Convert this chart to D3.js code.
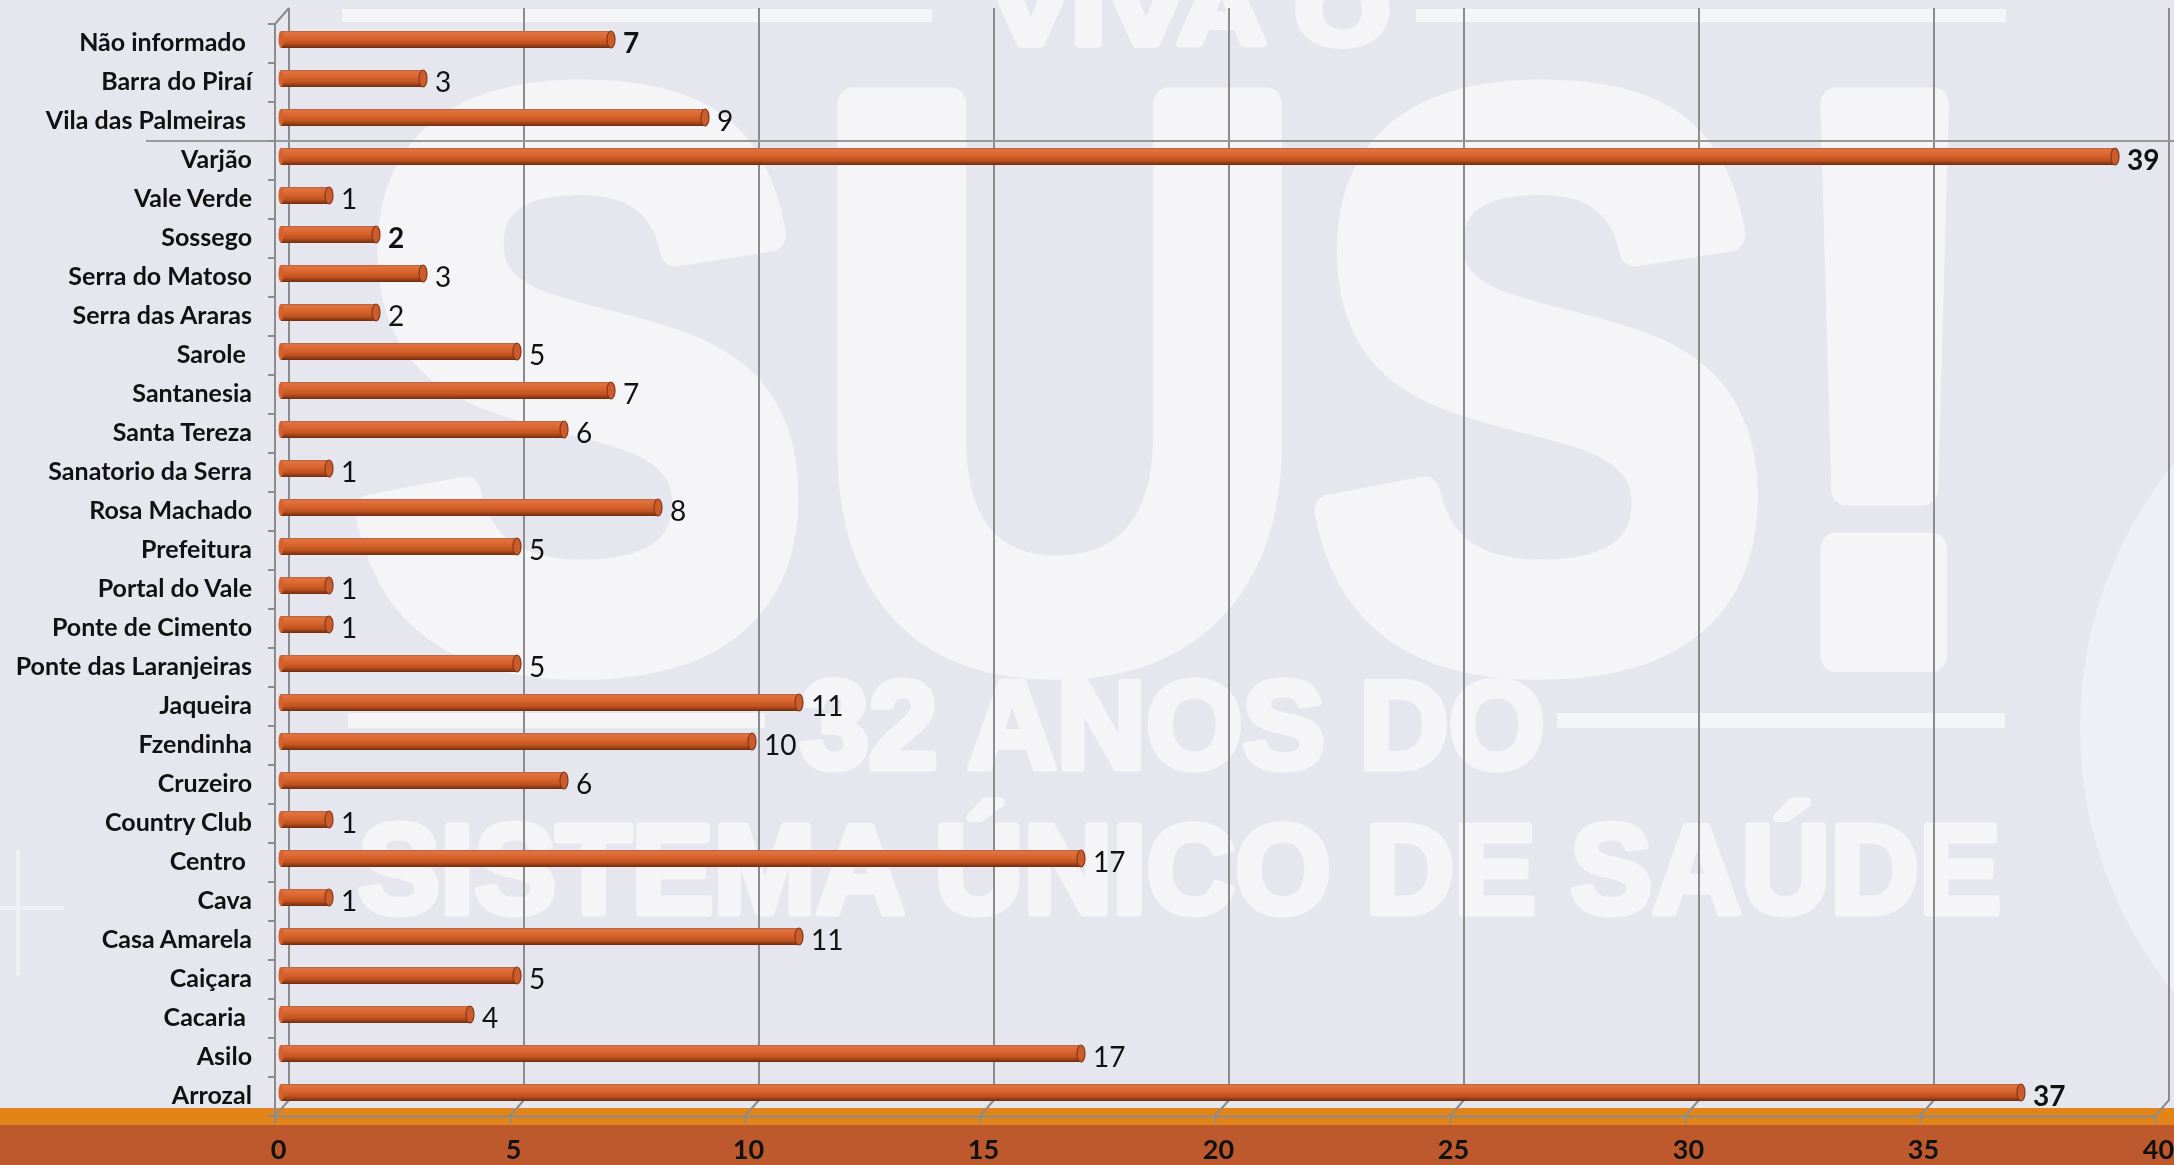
<!DOCTYPE html>
<html>
<head>
<meta charset="utf-8">
<script src="https://cdn.jsdelivr.net/npm/d3@7/dist/d3.min.js"></script>
<style>
  body { margin: 0; background: #e6e6ee; overflow: hidden; }
  text { font-family: Lato, "Open Sans", sans-serif; }
</style>
</head>
<body>
<script>
"use strict";

// categories top to bottom, as in the original sheet (some carry a trailing space)
var categories = [
  "Não informado ", "Barra do Piraí", "Vila das Palmeiras ", "Varjão", "Vale Verde",
  "Sossego", "Serra do Matoso", "Serra das Araras", "Sarole ", "Santanesia",
  "Santa Tereza", "Sanatorio da Serra", "Rosa Machado", "Prefeitura", "Portal do Vale",
  "Ponte de Cimento", "Ponte das Laranjeiras", "Jaqueira", "Fzendinha", "Cruzeiro",
  "Country Club", "Centro ", "Cava", "Casa Amarela", "Caiçara",
  "Cacaria ", "Asilo", "Arrozal"
];
var values = [
  7, 3, 9, 39, 1,
  2, 3, 2, 5, 7,
  6, 1, 8, 5, 1,
  1, 5, 11, 10, 6,
  1, 17, 1, 11, 5,
  4, 17, 37
];
// value labels that are bold in the original
var boldValues = ["Não informado ", "Sossego", "Varjão", "Arrozal"];
var xTicks = [0, 5, 10, 15, 20, 25, 30, 35, 40];

var width = 2174, height = 1165;
// front plane of the 3d box, back wall is shifted by depth
var front = {left: 275, right: 2155, top: 24, bottom: 1116};
var depth = {x: 14, y: -16};

var data = categories.map(function(c, i) { return {cat: c, value: values[i]}; });

var xScale = d3.scaleLinear()
    .domain([0, 40])
    .range([front.left, front.right]);

var yScale = d3.scaleBand()
    .domain(categories)
    .range([front.top, front.bottom]);

var svg = d3.select("body").append("svg")
    .attr("width", width)
    .attr("height", height);

var defs = svg.append("defs");
var grad = defs.append("linearGradient")
    .attr("id", "barGrad")
    .attr("x1", 0).attr("y1", 0).attr("x2", 0).attr("y2", 1);
[["0%", "#a9644a"], ["10%", "#e2733f"], ["38%", "#da6630"], ["72%", "#c2531f"], ["100%", "#6e2c10"]]
  .forEach(function(s) { grad.append("stop").attr("offset", s[0]).attr("stop-color", s[1]); });

// background picture (faded poster)
svg.append("rect").attr("width", width).attr("height", height).attr("fill", "#e6e6ee");

var wmFont = "'Liberation Sans', Arial, sans-serif";
var wm = svg.append("g").attr("class", "watermark")
    .attr("fill", "#ffffff").attr("stroke", "#ffffff").attr("stroke-linejoin", "round")
    .attr("opacity", 0.6);
wm.append("circle").attr("cx", 2500).attr("cy", 728).attr("r", 420)
    .attr("fill", "#f4f7fe").attr("stroke", "none");
wm.append("rect").attr("x", 342).attr("y", 9).attr("width", 590).attr("height", 13).attr("stroke", "none");
wm.append("rect").attr("x", 1416).attr("y", 9).attr("width", 590).attr("height", 13).attr("stroke", "none");
wm.append("text").attr("x", 1190).attr("y", 44).attr("text-anchor", "middle")
    .attr("font-size", 100).attr("font-weight", 700).attr("stroke-width", 8)
    .style("font-family", wmFont)
    .attr("textLength", 400).attr("lengthAdjust", "spacingAndGlyphs")
    .text("VIVA O");
wm.append("text").attr("x", 350).attr("y", 655)
    .attr("font-size", 800).attr("font-weight", 700).attr("stroke-width", 34)
    .style("font-family", wmFont)
    .attr("textLength", 1650).attr("lengthAdjust", "spacingAndGlyphs")
    .text("SUS!");
wm.append("rect").attr("x", 348).attr("y", 713).attr("width", 417).attr("height", 15).attr("stroke", "none");
wm.append("rect").attr("x", 1557).attr("y", 713).attr("width", 448).attr("height", 15).attr("stroke", "none");
wm.append("text").attr("x", 800).attr("y", 768)
    .attr("font-size", 124).attr("font-weight", 700).attr("stroke-width", 7)
    .style("font-family", wmFont)
    .attr("textLength", 745).attr("lengthAdjust", "spacingAndGlyphs")
    .text("32 ANOS DO");
wm.append("text").attr("x", 358).attr("y", 913)
    .attr("font-size", 127).attr("font-weight", 700).attr("stroke-width", 7)
    .style("font-family", wmFont)
    .attr("textLength", 1643).attr("lengthAdjust", "spacingAndGlyphs")
    .text("SISTEMA ÚNICO DE SAÚDE");
wm.append("path").attr("fill", "none").attr("stroke-width", 4).attr("opacity", 0.7)
    .attr("d", "M18,850V975M0,908H64");

// bottom bands
svg.append("rect").attr("x", 0).attr("y", 1108).attr("width", width).attr("height", 17).attr("fill", "#e38418");
svg.append("rect").attr("x", 0).attr("y", 1125).attr("width", width).attr("height", height - 1125).attr("fill", "#bd592c");

var gridColor = "#8c8c8c";

// gridlines on the back wall, bending down to the front axis
svg.append("g").attr("class", "gridlines")
  .selectAll("path")
  .data(xTicks)
  .enter().append("path")
    .attr("fill", "none")
    .attr("stroke", gridColor)
    .attr("stroke-width", 2)
    .attr("d", function(t) {
      var xb = xScale(t) + depth.x;
      return "M" + xb + "," + (front.top + depth.y) +
             "V" + (front.bottom + depth.y) +
             "L" + xScale(t) + "," + front.bottom;
    });

// odd line across the plot in the original
svg.append("line")
    .attr("x1", 146).attr("x2", width)
    .attr("y1", yScale(categories[3])).attr("y2", yScale(categories[3]))
    .attr("stroke", "#999").attr("stroke-width", 2);

// category axis (front left edge)
var gY = svg.append("g").attr("class", "axis axis--y");
gY.append("path")
    .attr("fill", "none").attr("stroke", gridColor).attr("stroke-width", 2)
    .attr("d", "M" + (front.left + depth.x) + "," + (front.top + depth.y) +
               "L" + front.left + "," + front.top + "V" + (front.bottom + 7));
gY.selectAll(".tick")
  .data(categories.concat([null]))
  .enter().append("line")
    .attr("class", "tick")
    .attr("x1", front.left - 7).attr("x2", front.left)
    .attr("y1", function(c) { return c === null ? front.bottom : yScale(c); })
    .attr("y2", function(c) { return c === null ? front.bottom : yScale(c); })
    .attr("stroke", gridColor).attr("stroke-width", 2);

gY.selectAll(".label")
  .data(categories)
  .enter().append("text")
    .attr("class", "label")
    .attr("x", 252)
    .attr("y", function(c) { return yScale(c) + yScale.bandwidth() / 2 + 7; })
    .attr("text-anchor", "end")
    .attr("font-size", 25)
    .attr("font-weight", 700)
    .attr("fill", "#111")
    .style("white-space", "pre")
    .text(function(c) { return c; });

// value axis along the floor front edge
var xAxis = d3.axisBottom(xScale)
    .tickValues(xTicks)
    .tickSize(7)
    .tickSizeOuter(0)
    .tickPadding(17);

var gX = svg.append("g")
    .attr("class", "axis axis--x")
    .attr("transform", "translate(0," + front.bottom + ")")
    .call(xAxis);
gX.select(".domain").attr("stroke", gridColor).attr("stroke-width", 2);
gX.selectAll(".tick line").attr("stroke", gridColor).attr("stroke-width", 2);
gX.selectAll(".tick text")
    .attr("font-size", 27)
    .attr("font-weight", 700)
    .attr("fill", "#111")
    .attr("dx", 3)
    .style("font-family", "Lato, sans-serif");

// bars, drawn mid-depth as cylinders
var barH = 17;
function barY(d) { return yScale(d.cat) + yScale.bandwidth() / 2 - 4; }
function barX0() { return xScale(0) + 6; }
function barX1(d) { return xScale(d.value) + 7; }

var bars = svg.append("g").attr("class", "bars")
  .selectAll("g")
  .data(data)
  .enter().append("g");

bars.append("rect")
    .attr("x", barX0)
    .attr("y", function(d) { return barY(d) - barH / 2; })
    .attr("width", function(d) { return barX1(d) - barX0(); })
    .attr("height", barH)
    .attr("fill", "url(#barGrad)");

bars.append("ellipse")
    .attr("cx", barX0)
    .attr("cy", barY)
    .attr("rx", 2.5).attr("ry", barH / 2)
    .attr("fill", "#d5612e");

bars.append("ellipse")
    .attr("cx", barX1)
    .attr("cy", barY)
    .attr("rx", 4).attr("ry", barH / 2)
    .attr("fill", "#cc5c2b")
    .attr("stroke", "#85381a")
    .attr("stroke-width", 1.2);

bars.append("text")
    .attr("x", function(d) { return barX1(d) + 12; })
    .attr("y", function(d) { return barY(d) + 13; })
    .attr("font-size", 28)
    .attr("font-weight", function(d) { return boldValues.indexOf(d.cat) >= 0 ? 700 : 400; })
    .attr("fill", "#111")
    .text(function(d) { return d.value; });
</script>
</body>
</html>
